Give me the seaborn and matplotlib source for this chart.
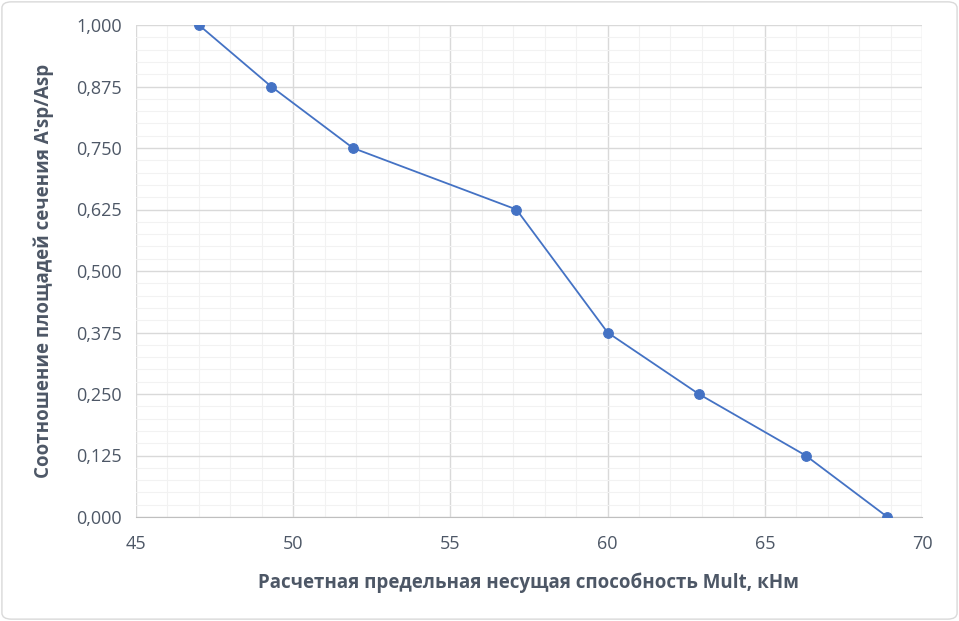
import numpy as np
import matplotlib
matplotlib.use("Agg")
import matplotlib.pyplot as plt
import seaborn as sns
import pandas as pd
from matplotlib.ticker import MultipleLocator, FuncFormatter
from matplotlib.patches import FancyBboxPatch

mult = [47.0, 49.3, 51.9, 57.1, 60.0, 62.9, 66.3, 68.9]
ratio = [1.0, 0.875, 0.75, 0.625, 0.375, 0.25, 0.125, 0.0]
df = pd.DataFrame({'Mult': mult, 'ratio': ratio})

sns.set_style("white")
plt.rcParams['font.family'] = ['Open Sans', 'DejaVu Sans']
txt = '#4D5766'

fig = plt.figure(figsize=(9.59, 6.21), dpi=100)
ax = fig.add_axes([136/959, 1-517/621, (922-136)/959, (517-25)/621])

sns.lineplot(data=df, x='Mult', y='ratio', ax=ax, color='#4472C4', lw=1.3,
             marker='o', markersize=7, markeredgecolor='#4472C4', zorder=3)

ax.set_xlim(45, 70)
ax.set_ylim(0, 1)
ax.xaxis.set_major_locator(MultipleLocator(5))
ax.xaxis.set_minor_locator(MultipleLocator(1))
ax.yaxis.set_major_locator(MultipleLocator(0.125))
ax.yaxis.set_minor_locator(MultipleLocator(0.025))
ax.yaxis.set_major_formatter(FuncFormatter(lambda v, p: f'{v:.3f}'.replace('.', ',')))
ax.grid(True, which='major', color='#D9D9D9', lw=1)
ax.grid(True, which='minor', color='#F2F2F2', lw=0.8)
ax.set_axisbelow(True)
for s in ['top', 'right', 'left']:
    ax.spines[s].set_visible(False)
ax.spines['bottom'].set_color('#BFBFBF')
ax.tick_params(axis='x', which='major', length=5, color='#BFBFBF', labelsize=13, labelcolor=txt, pad=8)
ax.tick_params(axis='y', length=0, labelsize=13, labelcolor=txt, pad=10)
ax.tick_params(which='minor', length=0)

ax.set_xlabel('Расчетная предельная несущая способность Mult, кНм', fontsize=13.5,
              fontweight='bold', color=txt, labelpad=14)
ax.set_ylabel("Соотношение площадей сечения A'sp/Asp", fontsize=13.5,
              fontweight='bold', color=txt, labelpad=16)

fig.patches.append(FancyBboxPatch((0.002, 0.003), 0.996, 0.994, boxstyle='round,pad=0,rounding_size=0.01',
                                  transform=fig.transFigure, fill=False, ec='#D9D9D9', lw=1))
fig.savefig('out.png', dpi=100)
